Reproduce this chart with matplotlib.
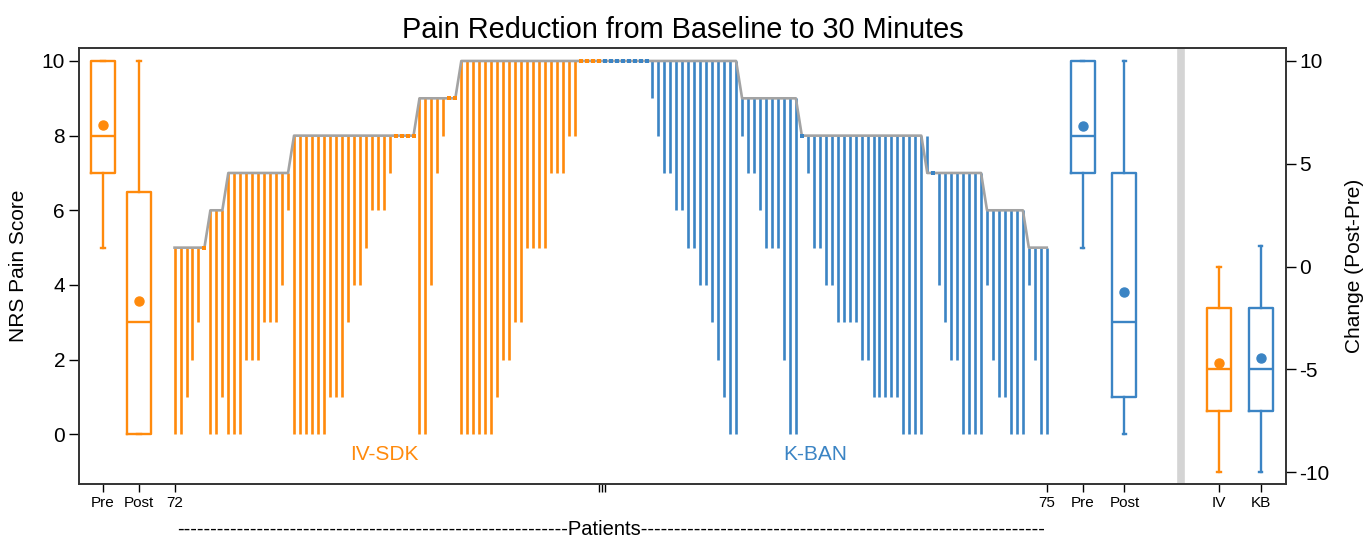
import numpy as np
import matplotlib
matplotlib.use("Agg")
import matplotlib.pyplot as plt
import matplotlib.transforms as mtransforms

plt.rcParams['font.family'] = ['Liberation Sans', 'DejaVu Sans']
plt.rcParams['axes.unicode_minus'] = False

# IV-SDK patients: pain before (pre) and 30 min after (post), sorted as in the figure
iv_pre = [5, 5, 5, 5, 5, 5,
          6, 6, 6,
          7, 7, 7, 7, 7, 7, 7, 7, 7, 7, 7,
          8, 8, 8, 8, 8, 8, 8, 8, 8, 8, 8, 8, 8, 8, 8, 8, 8, 8, 8, 8, 8,
          9, 9, 9, 9, 9, 9, 9,
          10, 10, 10, 10, 10, 10, 10, 10, 10, 10, 10, 10,
          10, 10, 10, 10, 10, 10, 10, 10, 10, 10, 10, 10]
iv_post = [0, 0, 1, 2, 3, 5,
           0, 0, 1,
           0, 0, 0, 2, 2, 2, 3, 3, 3, 4, 6,
           0, 0, 0, 0, 0, 0, 1, 1, 1, 3, 4, 4, 5, 6, 6, 6, 7, 8, 8, 8, 8,
           0, 0, 4, 7, 8, 9, 9,
           0, 0, 0, 0, 0, 0, 1, 2, 2, 3, 3, 5,
           5, 5, 5, 7, 7, 7, 8, 8, 10, 10, 10, 10]

# K-BAN patients
kb_pre = [10, 10, 10, 10, 10, 10, 10, 10, 10, 10, 10, 10,
          10, 10, 10, 10, 10, 10, 10, 10, 10, 10, 10,
          9, 9, 9, 9, 9, 9, 9, 9, 9, 9,
          8, 8, 8, 8, 8, 8, 8, 8, 8, 8, 8, 8, 8, 8, 8, 8, 8, 8, 8, 8, 8,
          7, 7, 7, 7, 7, 7, 7, 7, 7, 7,
          6, 6, 6, 6, 6, 6, 6,
          5, 5, 5, 5]
kb_post = [10, 10, 10, 10, 10, 10, 10, 10, 9, 8, 7, 7,
           6, 6, 5, 5, 4, 4, 3, 2, 1, 0, 0,
           8, 7, 7, 6, 5, 5, 5, 2, 0, 0,
           8, 7, 5, 5, 4, 4, 3, 3, 3, 3, 2, 2, 1, 1, 1, 1, 1, 0, 0, 0, 0,
           8, 7, 4, 3, 2, 2, 0, 0, 0, 0,
           4, 2, 1, 1, 0, 0, 0,
           4, 2, 0, 0]

ORANGE = '#ff8a0c'
BLUE = '#3b84c4'
GRAY = '#a3a3a3'


def box_stats(vals):
    # quartiles computed the Stata way (average at exact positions)
    v = np.asarray(vals, dtype=float)
    q1, med, q3 = np.percentile(v, [25, 50, 75], method='averaged_inverted_cdf')
    iqr = q3 - q1
    lo = v[v >= q1 - 1.5 * iqr].min()
    hi = v[v <= q3 + 1.5 * iqr].max()
    return dict(med=med, q1=q1, q3=q3, whislo=lo, whishi=hi,
                mean=v.mean(), fliers=[])


def draw_box(ax, vals, pos, color):
    lp = dict(color=color, linewidth=1.7)
    ax.bxp([box_stats(vals)], positions=[pos], widths=4, capwidths=0.6,
           showmeans=True, showfliers=False,
           boxprops=lp, whiskerprops=lp, capprops=lp, medianprops=lp,
           meanprops=dict(marker='o', markerfacecolor=color,
                          markeredgecolor=color, markersize=6.5),
           manage_ticks=False)


iv_pre_a, iv_post_a = np.array(iv_pre), np.array(iv_post)
kb_pre_a, kb_post_a = np.array(kb_pre), np.array(kb_post)
x_iv = np.arange(len(iv_pre))
x_kb = np.arange(len(kb_pre)) + len(iv_pre)

fig = plt.figure(figsize=(13.71, 5.38), dpi=100)
ax = fig.add_axes([0.0576, 0.1004, 0.8802, 0.8104])

# patient spikes from pre down (or up) to post
for x, pre, post, c in [(x_iv, iv_pre_a, iv_post_a, ORANGE),
                        (x_kb, kb_pre_a, kb_post_a, BLUE)]:
    moved = pre != post
    ax.vlines(x[moved], pre[moved], post[moved], color=c, linewidth=1.9, zorder=2)
    ax.plot(x[~moved], post[~moved], 's', color=c, markersize=3.5,
            markeredgewidth=0, zorder=4)

# baseline profile
ax.plot(np.concatenate([x_iv, x_kb]), np.concatenate([iv_pre_a, kb_pre_a]),
        color=GRAY, linewidth=1.9, zorder=3)

# pre / post summary boxes
draw_box(ax, iv_pre, -12, ORANGE)
draw_box(ax, iv_post, -6, ORANGE)
draw_box(ax, kb_pre, 152, BLUE)
draw_box(ax, kb_post, 159, BLUE)

ax.axvline(168.4, color='#d4d4d4', linewidth=5.5, zorder=1)

ax.set_xlim(-16, 186)
ax.set_ylim(-1.331, 10.348)
ax.set_yticks([0, 2, 4, 6, 8, 10])
ax.set_xticks([-12, -6, 0, 146, 152, 159, 174.8, 181.8])
ax.set_xticklabels(['Pre', 'Post', '72', '75', 'Pre', 'Post', 'IV', 'KB'])
ax.set_xticks([71, 71.5, 72], minor=True)
ax.tick_params(axis='x', which='both', length=6, width=1, labelsize=11, pad=3)
ax.tick_params(axis='y', length=7, width=1, labelsize=15, pad=3)
ax.set_ylabel('NRS Pain Score', fontsize=15)
ax.yaxis.set_label_coords(-0.042, 0.5)
for s in ax.spines.values():
    s.set_color('#333333')
    s.set_linewidth(1.2)

ax.text(35.2, -0.55, 'IV-SDK', color=ORANGE, fontsize=15, ha='center', va='center')
ax.text(107.2, -0.55, 'K-BAN', color=BLUE, fontsize=15, ha='center', va='center')

trans = mtransforms.blended_transform_factory(ax.transData, ax.transAxes)
ax.text(73, -0.105, '-' * 59 + 'Patients' + '-' * 61, transform=trans,
        ha='center', va='center', fontsize=14.5, clip_on=False)

ax.set_title('Pain Reduction from Baseline to 30 Minutes', fontsize=20.8, pad=7)

# change scores on the right axis
ax2 = ax.twinx()
ax2.set_ylim(-10.57, 10.62)
draw_box(ax2, iv_post_a - iv_pre_a, 174.8, ORANGE)
draw_box(ax2, kb_post_a - kb_pre_a, 181.8, BLUE)
ax2.set_yticks([-10, -5, 0, 5, 10])
ax2.tick_params(axis='y', length=7, width=1, labelsize=15, pad=3)
ax2.set_ylabel('Change (Post-Pre)', fontsize=15)
ax2.yaxis.set_label_coords(1.049, 0.5)
for s in ax2.spines.values():
    s.set_color('#333333')
    s.set_linewidth(1.2)

fig.savefig('out.png', dpi=100)
